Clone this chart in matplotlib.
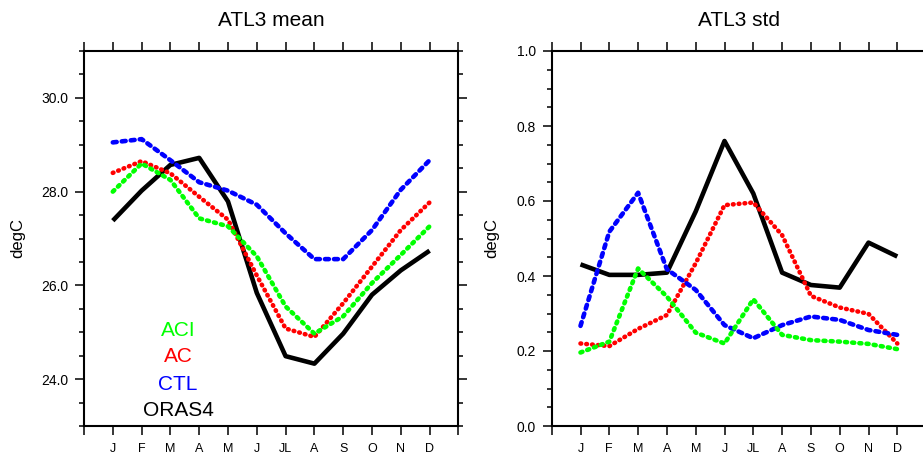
import matplotlib
matplotlib.use("Agg")
import matplotlib.pyplot as plt
from matplotlib.ticker import MultipleLocator, FixedLocator, FormatStrFormatter

plt.rcParams['font.family'] = ['Liberation Sans', 'DejaVu Sans']

months = ["J", "F", "M", "A", "M", "J", "JL", "A", "S", "O", "N", "D"]

# ATL3 mean (degC)
mean_aci = [28.00, 28.60, 28.25, 27.43, 27.26, 26.62, 25.55, 24.97, 25.34, 26.05, 26.65, 27.26]
mean_ac = [28.40, 28.65, 28.39, 27.89, 27.40, 26.21, 25.08, 24.90, 25.62, 26.40, 27.18, 27.77]
mean_ctl = [29.05, 29.12, 28.67, 28.20, 28.02, 27.72, 27.11, 26.56, 26.56, 27.18, 28.04, 28.67]
mean_oras4 = [27.38, 28.02, 28.57, 28.72, 27.79, 25.84, 24.49, 24.33, 24.97, 25.80, 26.32, 26.74]

# ATL3 std (degC)
std_aci = [0.196, 0.225, 0.420, 0.345, 0.249, 0.220, 0.338, 0.243, 0.229, 0.225, 0.219, 0.205]
std_ac = [0.220, 0.213, 0.259, 0.296, 0.434, 0.589, 0.596, 0.509, 0.347, 0.316, 0.299, 0.220]
std_ctl = [0.267, 0.518, 0.622, 0.418, 0.363, 0.269, 0.234, 0.269, 0.292, 0.283, 0.256, 0.243]
std_oras4 = [0.431, 0.403, 0.403, 0.409, 0.572, 0.760, 0.620, 0.409, 0.376, 0.369, 0.489, 0.452]

series_names = ["ACI", "AC", "CTL", "ORAS4"]
colors = {"ACI": "#00ff00", "AC": "#ff0000", "CTL": "#0000ff", "ORAS4": "#000000"}
styles = {"ACI": (0, (0.45, 1.12)), "AC": (0, (0.15, 1.12)), "CTL": (0, (0.85, 1.12)), "ORAS4": '-'}

fig = plt.figure(figsize=(9.23, 4.55), dpi=100)
W, H = 923.0, 455.0
ax1 = fig.add_axes([84 / W, 29 / H, 374.4 / W, 375 / H])
ax2 = fig.add_axes([551.7 / W, 29 / H, 374.4 / W, 375 / H])

x = list(range(1, 13))


def draw(ax, d):
    order = ["ORAS4", "AC", "CTL", "ACI"]
    for name in order:
        ax.plot(x, d[name], color=colors[name], lw=3.3, ls=styles[name],
                solid_capstyle='butt', dash_capstyle='round', zorder=3)


draw(ax1, {"ACI": mean_aci, "AC": mean_ac, "CTL": mean_ctl, "ORAS4": mean_oras4})
draw(ax2, {"ACI": std_aci, "AC": std_ac, "CTL": std_ctl, "ORAS4": std_oras4})

for ax in (ax1, ax2):
    ax.set_xlim(0, 13)
    ax.xaxis.set_major_locator(FixedLocator(list(range(0, 14))))
    ax.set_xticklabels([""] + months + [""], fontsize=9)
    ax.tick_params(axis='both', which='both', direction='out', top=True, right=True,
                   width=1.1)
    ax.tick_params(axis='both', which='major', length=6.5, pad=5)
    ax.tick_params(axis='y', which='minor', length=3.6)
    ax.tick_params(axis='x', which='major', pad=6)
    for s in ax.spines.values():
        s.set_linewidth(1.5)

ax1.set_ylabel("degC", fontsize=12, labelpad=11)
ax2.set_ylabel("degC", fontsize=12, labelpad=12)

ax1.set_ylim(23, 31)
ax1.yaxis.set_major_locator(FixedLocator([24, 26, 28, 30]))
ax1.yaxis.set_minor_locator(MultipleLocator(0.5))
ax1.yaxis.set_major_formatter(FormatStrFormatter("%.1f"))
ax1.set_title("ATL3 mean", fontsize=15, pad=18)

ax2.set_ylim(0, 1.0)
ax2.yaxis.set_major_locator(MultipleLocator(0.2))
ax2.yaxis.set_minor_locator(MultipleLocator(0.05))
ax2.yaxis.set_major_formatter(FormatStrFormatter("%.1f"))
ax2.set_title("ATL3 std", fontsize=15, pad=18)

for ax in (ax1, ax2):
    for lab in ax.get_yticklabels():
        lab.set_fontsize(10)

leg_y = [0.256, 0.184, 0.112, 0.041]
for name, yy in zip(series_names, leg_y):
    ax1.text(0.251, yy, name, color=colors[name], fontsize=15, ha='center', va='center',
             transform=ax1.transAxes)

fig.savefig("out.png", dpi=100)
